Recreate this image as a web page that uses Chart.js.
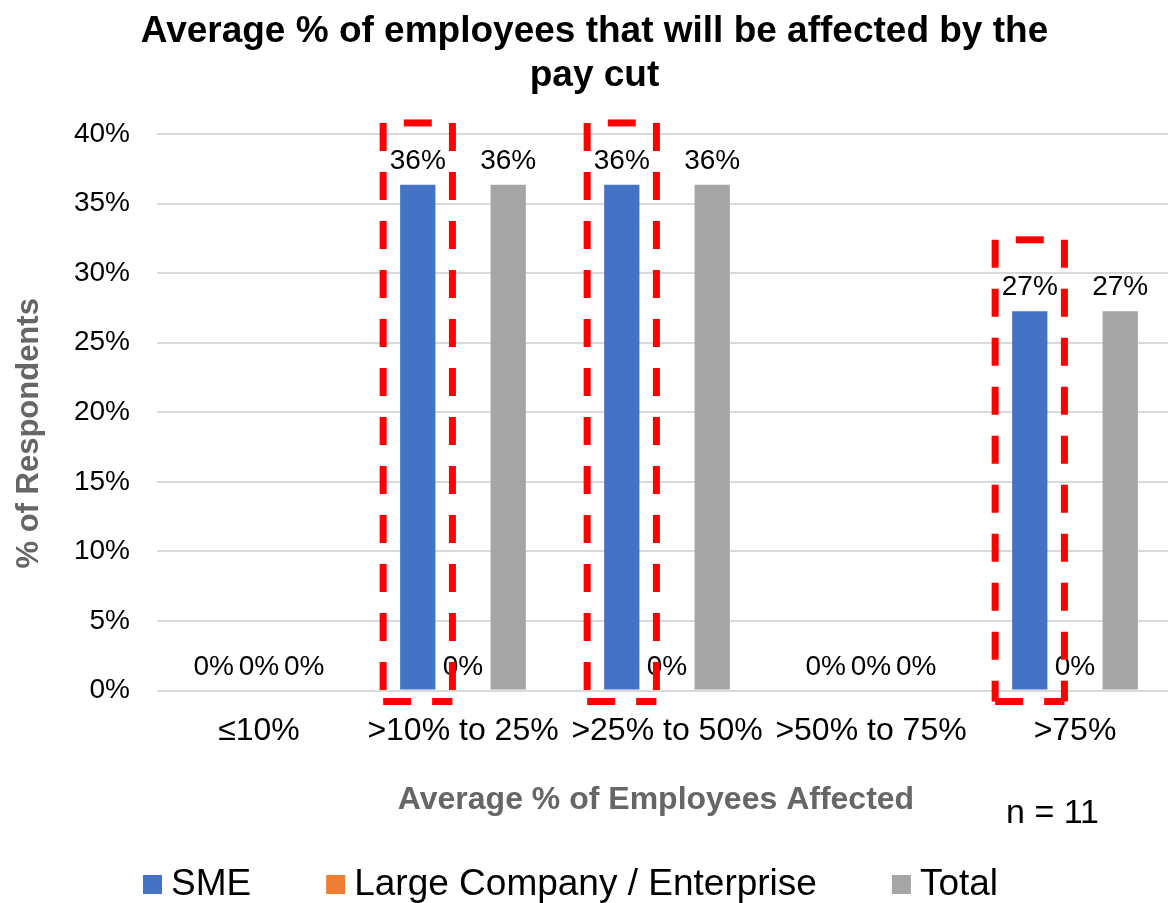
<!DOCTYPE html>
<html>
<head>
<meta charset="utf-8">
<title>Pay cut - employees affected</title>
<script src="https://cdn.jsdelivr.net/npm/chart.js@4.4.1/dist/chart.umd.min.js"></script>
<style>
  html, body { margin: 0; padding: 0; background: #fff; overflow: hidden; }
  #wrap { width: 1196px; height: 903px; }
</style>
</head>
<body>
<div id="wrap"><canvas id="grafico" width="1196" height="903"></canvas></div>
<script>
var FONTE = '"Liberation Sans", Arial, sans-serif';

// Faixas de % de funcionarios afetados e % de respondentes (n = 11)
var categorias = ["≤10%", ">10% to 25%", ">25% to 50%", ">50% to 75%", ">75%"];
var sme = [0, 36.36, 36.36, 0, 27.27];
var largeCompany = [0, 0, 0, 0, 0];
var total = [0, 36.36, 36.36, 0, 27.27];
var yTicks = [0, 5, 10, 15, 20, 25, 30, 35, 40];
var amostra = 11;

// rotulos de valor em cima de cada barra
var rotulos = {
    id: 'rotulos',
    afterDatasetsDraw: function (chart) {
        var c = chart.ctx;
        c.save();
        c.font = '28px ' + FONTE;
        c.fillStyle = '#000';
        c.textAlign = 'center';
        c.textBaseline = 'alphabetic';
        chart.data.datasets.forEach(function (ds, i) {
            chart.getDatasetMeta(i).data.forEach(function (bar, j) {
                c.fillText(Math.round(ds.data[j]) + '%', bar.x, bar.y - 16);
            });
        });
        c.restore();
    }
};

// caixas vermelhas tracejadas em volta das barras SME
var destaque = {
    id: 'destaque',
    afterDraw: function (chart, args, opts) {
        var meta = chart.getDatasetMeta(0);
        var y = chart.scales.y;
        var c = chart.ctx;
        var periodo = opts.dash[0] + opts.dash[1];
        c.save();
        c.strokeStyle = opts.color;
        c.lineWidth = opts.width;
        c.setLineDash(opts.dash);
        opts.boxes.forEach(function (b) {
            var bar = meta.data[b.index];
            var meio = bar.width / 2;
            var x0 = bar.x - meio - opts.padX;
            var x1 = bar.x + meio + opts.padX;
            var y0 = y.getPixelForValue(b.top);
            var y1 = y.getPixelForValue(0) + opts.padBottom;

            function linha(ax, ay, bx, by, offset) {
                c.lineDashOffset = offset;
                c.beginPath();
                c.moveTo(ax, ay);
                c.lineTo(bx, by);
                c.stroke();
            }
            // laterais comecam com traco no topo, o lado de cima tem um traco centralizado
            var s = (x1 - x0) / 2 - opts.dash[0] / 2;
            linha(x0, y0, x0, y1, 0);
            linha(x1, y0, x1, y1, 0);
            linha(x0, y0, x1, y0, (periodo - s % periodo) % periodo);
            linha(x0, y1, x1, y1, 0);
        });
        c.restore();
    }
};

// titulos dos eixos, legenda e tamanho da amostra
var textos = {
    id: 'textos',
    afterDraw: function (chart, args, opts) {
        var c = chart.ctx;
        var area = chart.chartArea;
        var meioX = (area.left + area.right) / 2;
        var meioY = (area.top + area.bottom) / 2;
        c.save();

        c.fillStyle = opts.axisColor;
        c.textAlign = 'center';
        c.textBaseline = 'middle';
        c.font = 'bold ' + opts.xTitleSize + 'px ' + FONTE;
        c.fillText(opts.xTitle, meioX + opts.xTitleShift, opts.xTitleY);

        c.save();
        c.translate(opts.yTitleX, meioY + opts.yTitleShift);
        c.rotate(-Math.PI / 2);
        c.font = 'bold ' + opts.yTitleSize + 'px ' + FONTE;
        c.fillText(opts.yTitle, 0, 0);
        c.restore();

        c.textBaseline = 'alphabetic';
        c.textAlign = 'left';
        c.font = opts.legendSize + 'px ' + FONTE;
        var x = area.left + opts.legendShift;
        chart.data.datasets.forEach(function (ds) {
            c.fillStyle = ds.backgroundColor;
            c.fillRect(x, opts.legendBaseline - 20, opts.box, opts.box);
            x += opts.box + opts.boxGap;
            c.fillStyle = '#000';
            c.fillText(ds.label, x, opts.legendBaseline);
            x += c.measureText(ds.label).width + opts.itemGap;
        });

        c.font = opts.nSize + 'px ' + FONTE;
        c.textAlign = 'right';
        c.fillText('n = ' + amostra, area.right + opts.nShift, opts.nBaseline);
        c.restore();
    }
};

var ctx = document.getElementById('grafico');

var barChart = new Chart(ctx, {
    type: 'bar',
    data: {
        labels: categorias,
        datasets: [{
            label: 'SME',
            data: sme,
            backgroundColor: '#4472C4'
        },
        {
            label: 'Large Company / Enterprise',
            data: largeCompany,
            backgroundColor: '#ED7D31'
        },
        {
            label: 'Total',
            data: total,
            backgroundColor: '#A5A5A5'
        }]
    },
    options: {
        responsive: false,
        animation: false,
        categoryPercentage: 0.665,
        barPercentage: 0.78,
        layout: {
            padding: { left: 12, right: 19, top: 0, bottom: 140 }
        },
        scales: {
            x: {
                grid: { display: false },
                border: { display: false },
                ticks: {
                    color: '#000',
                    padding: 13,
                    maxRotation: 0,
                    autoSkip: false,
                    font: { family: FONTE, size: 32 }
                }
            },
            y: {
                min: yTicks[0],
                max: yTicks[yTicks.length - 1],
                afterBuildTicks: function (scale) {
                    scale.ticks = yTicks.map(function (v) { return { value: v }; });
                },
                afterFit: function (scale) {
                    scale.width = 145;
                },
                grid: { color: '#d9d9d9', lineWidth: 2, drawTicks: false },
                border: { display: false },
                ticks: {
                    color: '#000',
                    padding: 27,
                    font: { family: FONTE, size: 28 },
                    callback: function (v) { return v + '%'; }
                }
            }
        },
        plugins: {
            legend: { display: false },
            tooltip: { enabled: false },
            title: {
                display: true,
                text: ['Average % of employees that will be affected by the', 'pay cut'],
                color: '#000',
                padding: { top: 10, bottom: 36 },
                font: { family: FONTE, size: 37, weight: 'bold', lineHeight: 1.19 }
            },
            destaque: {
                color: '#FF0000',
                width: 7,
                dash: [28, 21],
                padX: 17,
                padBottom: 11,
                boxes: [{ index: 1, top: 40.8 }, { index: 2, top: 40.8 }, { index: 4, top: 32.4 }]
            },
            textos: {
                axisColor: '#666',
                xTitle: 'Average % of Employees Affected',
                xTitleSize: 32,
                xTitleShift: -11,
                xTitleY: 800,
                yTitle: '% of Respondents',
                yTitleSize: 31,
                yTitleX: 29,
                yTitleShift: 21,
                legendSize: 37,
                legendShift: -14,
                legendBaseline: 895,
                box: 19,
                boxGap: 9,
                itemGap: 75,
                nSize: 34,
                nShift: -78,
                nBaseline: 823
            }
        }
    },
    plugins: [rotulos, destaque, textos]
});
</script>
</body>
</html>
